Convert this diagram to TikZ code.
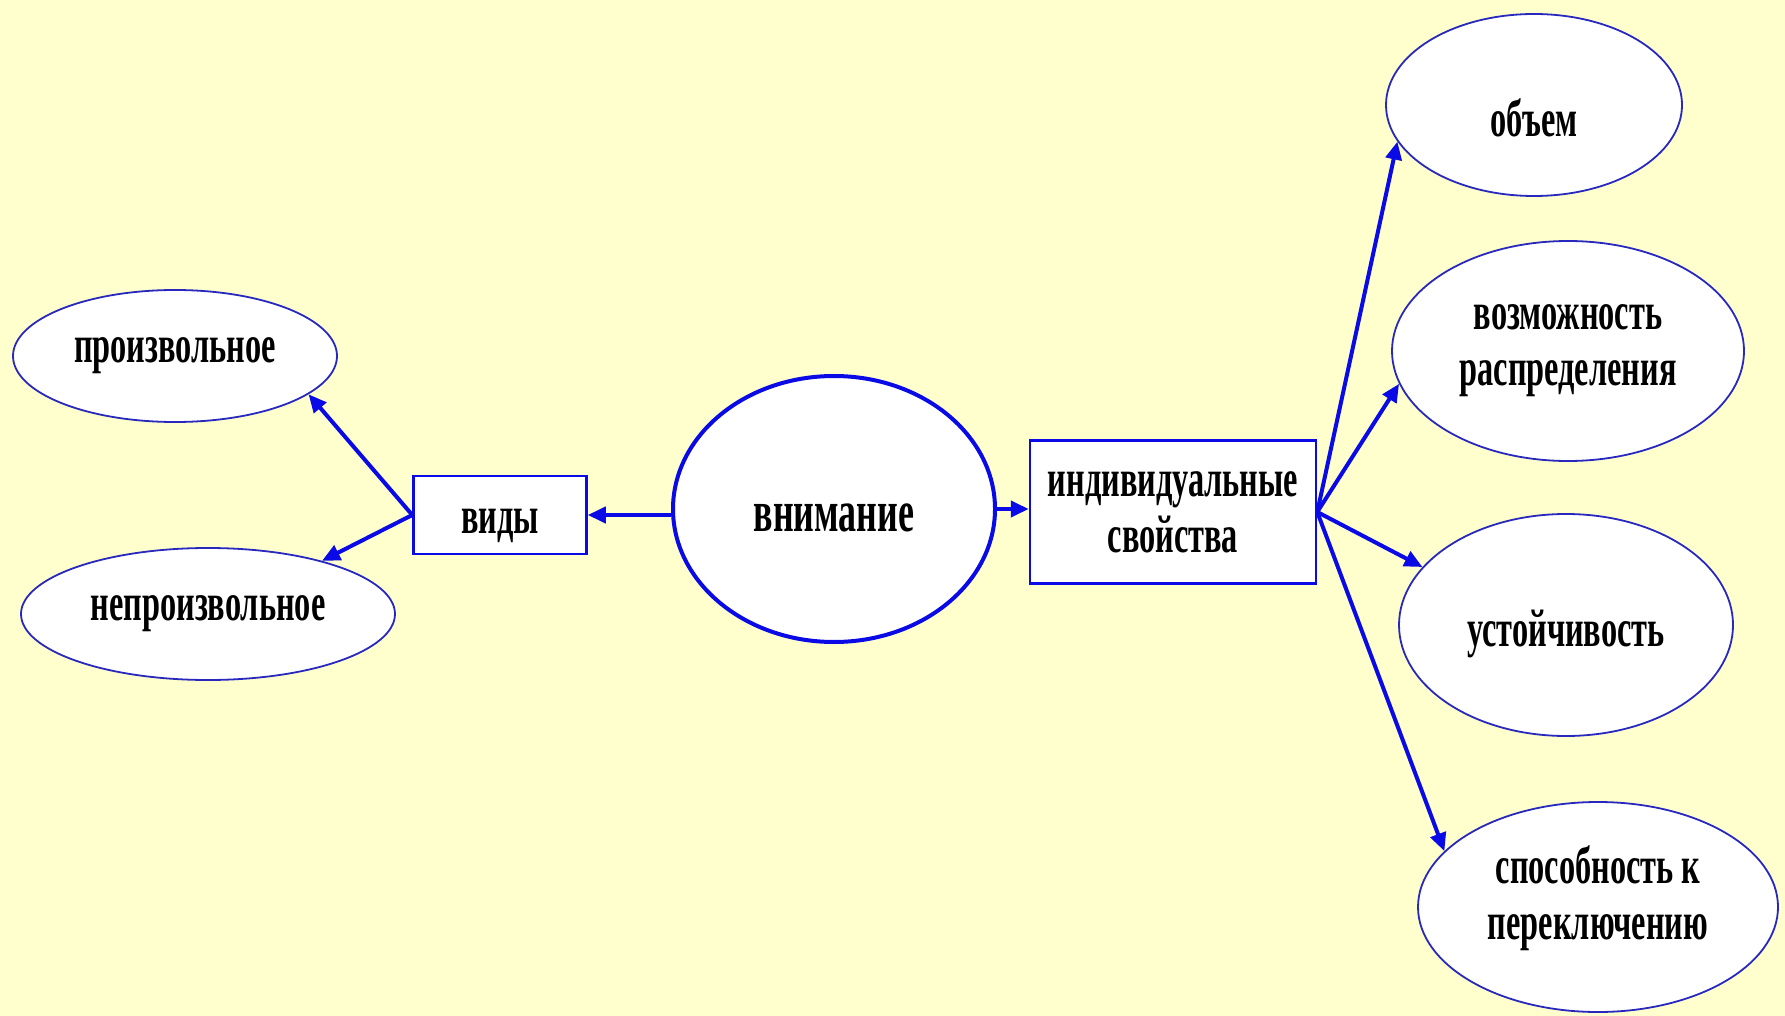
\documentclass[tikz,border=0pt]{standalone}
\usepackage{fontspec}
\setmainfont{Liberation Serif}[FakeStretch=0.61]
\usepackage{tikz}
\usetikzlibrary{shapes.geometric,arrows.meta}
\definecolor{slidebg}{RGB}{255,255,206}
\definecolor{linkblue}{RGB}{10,10,230}
\definecolor{rimblue}{RGB}{40,40,190}

\begin{document}
\begin{tikzpicture}[x=1pt,y=-1pt,
        oval/.style={ellipse, draw=rimblue, line width=1.8pt, fill=white, inner sep=0pt, align=center},
        rect/.style={rectangle, draw=linkblue, line width=2.5pt, fill=white, inner sep=0pt, align=center},
        link/.style={linkblue, line width=4pt, -{Triangle[length=18pt,width=16pt]}},
        every node/.style={font=\fontsize{53}{56}\selectfont\bfseries}]
        \fill[slidebg] (0,0) rectangle (1785,1016);
        \useasboundingbox (0,0) rectangle (1785,1016);
        \node[oval, minimum width=324pt, minimum height=132pt] (proizv) at (175,356) {произвольное};
        \node[oval, minimum width=374pt, minimum height=132pt] (neproizv) at (208,614) {непроизвольное};
        \node[rect, minimum width=173pt, minimum height=78pt, text height=46pt] (vidy) at (500,515) {виды};
        \node[oval, draw=linkblue, line width=4pt, minimum width=322pt, minimum height=266pt, text height=45pt, font=\fontsize{59}{62}\selectfont\bfseries] (vnim) at (834,509) {внимание};
        \node[rect, minimum width=286pt, minimum height=143pt] (svoistva) at (1173,512) {индивидуальные\\свойства};
        \node[oval, minimum width=296pt, minimum height=182pt, text height=64pt] (obem) at (1534,105) {объем};
        \node[oval, minimum width=352pt, minimum height=220pt] (raspr) at (1568,351) {возможность\\распределения};
        \node[oval, minimum width=334pt, minimum height=222pt, text height=54pt] (ustoi) at (1566,625) {устойчивость};
        \node[oval, minimum width=360pt, minimum height=210pt, text depth=28pt] (perekl) at (1598,907) {способность к\\переключению};
        \draw[link] (vnim.west |- vidy.east) -- (vidy.east);
        \draw[link] (vidy.west) -- (proizv.344);
        \draw[link] (vidy.west) -- (neproizv.25);
        \draw[link] (vnim.east) -- (vnim.east -| svoistva.west);
        \draw[link] (svoistva.east) -- (obem.195);
        \draw[link] (svoistva.east) -- (raspr.191);
        \draw[link] (svoistva.east) -- (ustoi.158);
        \draw[link] (svoistva.east) -- (perekl.160);
    \end{tikzpicture}
\end{document}
